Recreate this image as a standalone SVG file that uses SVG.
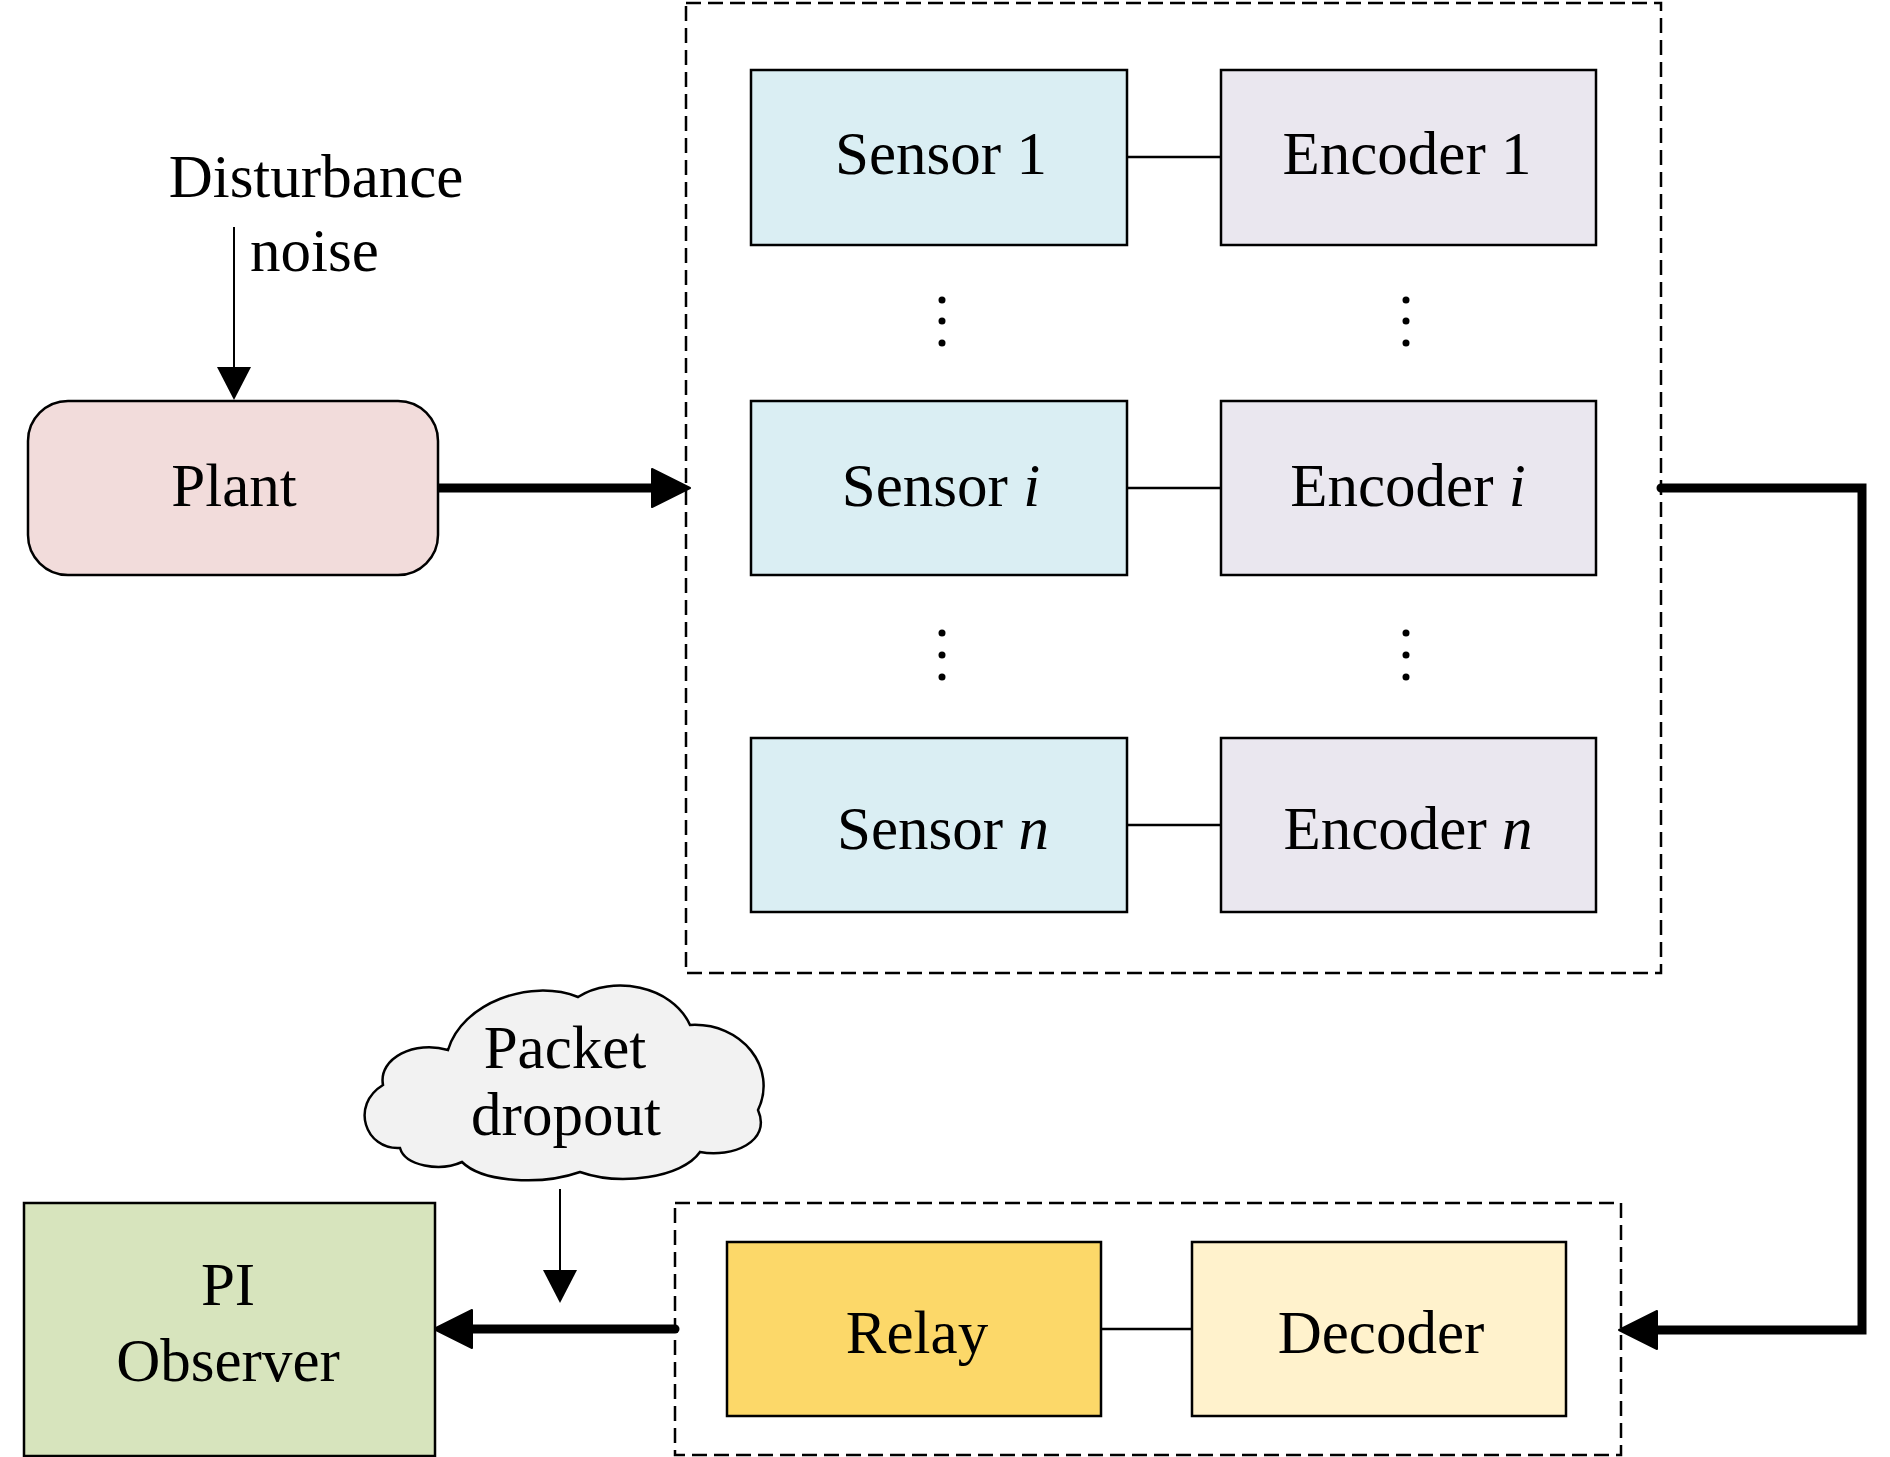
<svg xmlns="http://www.w3.org/2000/svg" width="1890" height="1457" viewBox="0 0 1890 1457">
<style>
  text { font-family: "Liberation Serif", "Times New Roman", serif; font-size: 61px; fill: #000; }
  .c { text-anchor: middle; }
  .box { stroke: #000; stroke-width: 2.5; }
  .sensor { fill: #DAEEF3; }
  .encoder { fill: #EAE7EF; }
  .dash { fill: none; stroke: #000; stroke-width: 2.5; stroke-dasharray: 15 7; }
  .thin { fill: none; stroke: #000; stroke-width: 2; }
  .thick { fill: none; stroke: #000; stroke-width: 9; stroke-linecap: round; stroke-linejoin: miter; }
  .link { fill: none; stroke: #000; stroke-width: 2.5; }
  .dot { fill: #000; }
</style>
<defs>
  <marker id="bigArrow" markerUnits="userSpaceOnUse" markerWidth="40" markerHeight="42" viewBox="0 0 40 42" refX="8" refY="21" orient="auto">
    <path d="M1,2 L39,21 L1,40 Z" fill="#000" stroke="#000" stroke-width="2" stroke-linejoin="round"/>
  </marker>
  <marker id="smallArrow" markerUnits="userSpaceOnUse" markerWidth="34" markerHeight="34" viewBox="0 0 34 34" refX="2" refY="17" orient="auto">
    <path d="M0,0 L33,17 L0,34 Z" fill="#000"/>
  </marker>
</defs>

<g id="sensor-group">
  <rect class="dash" x="686" y="3" width="975" height="970"/>
</g>
<g id="relay-group">
  <rect class="dash" x="675" y="1203" width="946" height="252"/>
</g>

<g id="connectors">
  <!-- disturbance to plant -->
  <line class="thin" x1="234" y1="227" x2="234" y2="369" marker-end="url(#smallArrow)"/>
  <!-- plant to sensors -->
  <line class="thick" x1="438" y1="488" x2="659" y2="488" marker-end="url(#bigArrow)"/>
  <!-- sensors to decoder -->
  <path class="thick" d="M1661,488 H1862 V1330 H1650" marker-end="url(#bigArrow)"/>
  <!-- relay to observer -->
  <line class="thick" x1="675" y1="1329" x2="465" y2="1329" marker-end="url(#bigArrow)"/>
  <!-- packet dropout -->
  <line class="thin" x1="560" y1="1189" x2="560" y2="1272" marker-end="url(#smallArrow)"/>
  <!-- sensor-encoder links -->
  <line class="link" x1="1127" y1="157" x2="1221" y2="157"/>
  <line class="link" x1="1127" y1="488" x2="1221" y2="488"/>
  <line class="link" x1="1127" y1="825" x2="1221" y2="825"/>
  <line class="link" x1="1101" y1="1329" x2="1192" y2="1329"/>
</g>

<g id="disturbance">
  <text class="c" x="316" y="197">Disturbance</text>
  <text x="250" y="271">noise</text>
</g>

<g id="plant">
  <rect class="box" x="28" y="401" width="410" height="174" rx="40" ry="40" fill="#F2DCDB"/>
  <text class="c" x="234" y="506">Plant</text>
</g>

<g id="sensor1">
  <rect class="box sensor" x="751" y="70" width="376" height="175"/>
  <text class="c" x="941" y="174">Sensor 1</text>
</g>
<g id="encoder1">
  <rect class="box encoder" x="1221" y="70" width="375" height="175"/>
  <text class="c" x="1407" y="174">Encoder 1</text>
</g>
<g id="sensori">
  <rect class="box sensor" x="751" y="401" width="376" height="174"/>
  <text class="c" x="941" y="506">Sensor <tspan font-style="italic">i</tspan></text>
</g>
<g id="encoderi">
  <rect class="box encoder" x="1221" y="401" width="375" height="174"/>
  <text class="c" x="1408" y="506">Encoder <tspan font-style="italic">i</tspan></text>
</g>
<g id="sensorn">
  <rect class="box sensor" x="751" y="738" width="376" height="174"/>
  <text class="c" x="943" y="849">Sensor <tspan font-style="italic">n</tspan></text>
</g>
<g id="encodern">
  <rect class="box encoder" x="1221" y="738" width="375" height="174"/>
  <text class="c" x="1408" y="849">Encoder <tspan font-style="italic">n</tspan></text>
</g>

<g id="ellipsis">
  <circle class="dot" cx="942" cy="300" r="3.5"/>
  <circle class="dot" cx="942" cy="321" r="3.5"/>
  <circle class="dot" cx="942" cy="343" r="3.5"/>
  <circle class="dot" cx="1406" cy="300" r="3.5"/>
  <circle class="dot" cx="1406" cy="321" r="3.5"/>
  <circle class="dot" cx="1406" cy="343" r="3.5"/>
  <circle class="dot" cx="942" cy="633" r="3.5"/>
  <circle class="dot" cx="942" cy="655" r="3.5"/>
  <circle class="dot" cx="942" cy="677" r="3.5"/>
  <circle class="dot" cx="1406" cy="633" r="3.5"/>
  <circle class="dot" cx="1406" cy="655" r="3.5"/>
  <circle class="dot" cx="1406" cy="677" r="3.5"/>
</g>

<g id="relay">
  <rect class="box" x="727" y="1242" width="374" height="174" fill="#FCD869"/>
  <text class="c" x="917" y="1353">Relay</text>
</g>
<g id="decoder">
  <rect class="box" x="1192" y="1242" width="374" height="174" fill="#FFF2CC"/>
  <text class="c" x="1381" y="1353">Decoder</text>
</g>

<g id="packet-dropout">
  <path d="M400,1148 C365,1150 350,1105 383,1085 C378,1058 415,1040 448,1050 C462,1003 530,978 578,997 C612,975 672,985 690,1025 C742,1022 778,1068 758,1110 C772,1142 732,1158 700,1152 C682,1178 620,1186 580,1172 C540,1186 482,1182 462,1162 C440,1172 405,1166 400,1148 Z" fill="#F2F2F2" stroke="#000" stroke-width="2.5"/>
  <text class="c" x="565" y="1068">Packet</text>
  <text class="c" x="566" y="1135">dropout</text>
</g>

<g id="pi-observer">
  <rect class="box" x="24" y="1203" width="411" height="253" fill="#D7E4BD"/>
  <text class="c" x="228" y="1305">PI</text>
  <text class="c" x="228" y="1381">Observer</text>
</g>
</svg>
